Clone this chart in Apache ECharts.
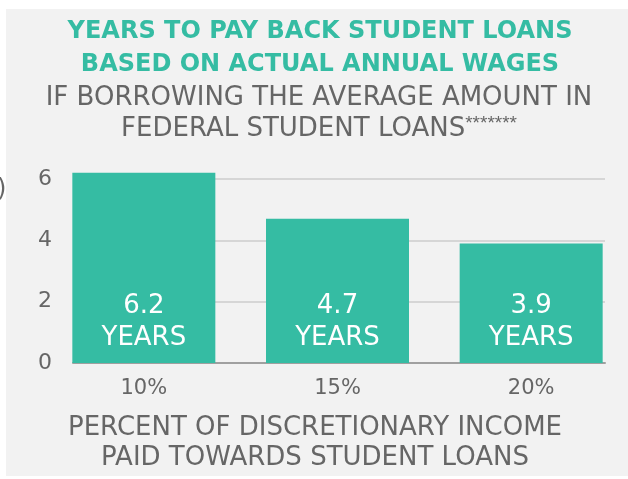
<!DOCTYPE html>
<html>
<head>
<meta charset="utf-8">
<script src="https://cdn.jsdelivr.net/npm/echarts@6/dist/echarts.min.js"></script>
<style>
  html, body { margin: 0; padding: 0; background: #fff; }
  #main { width: 628px; height: 479px; }
</style>
</head>
<body>
<div id="main"></div>
<script>
  var categories = ['10%', '15%', '20%'];
  var years = [6.2, 4.7, 3.9];
  var yTicks = [0, 2, 4, 6];

  var titleLines = ['YEARS TO PAY BACK STUDENT LOANS', 'BASED ON ACTUAL ANNUAL WAGES'];
  var subtitleLines = ['IF BORROWING THE AVERAGE AMOUNT IN', 'FEDERAL STUDENT LOANS'];
  var xNameLines = ['PERCENT OF DISCRETIONARY INCOME', 'PAID TOWARDS STUDENT LOANS'];

  var teal = '#35bca3';
  var grey = '#666666';
  var font = '"DejaVu Sans", sans-serif';

  var myChart = echarts.init(document.getElementById('main'));

  var option = {
    backgroundColor: '#ffffff',
    textStyle: { fontFamily: font },
    graphic: [
      {
        type: 'rect', z: -10, silent: true,
        shape: { x: 6, y: 9, width: 622, height: 467 },
        style: { fill: '#f2f2f2' }
      },
      {
        type: 'text', x: 320, y: 48,
        style: {
          text: titleLines.join('\n'), fill: teal, font: 'bold 24px ' + font,
          lineHeight: 33, align: 'center', verticalAlign: 'middle'
        }
      },
      {
        type: 'text', x: 319, y: 114,
        style: {
          text: subtitleLines[0] + '\n' + subtitleLines[1] + '{s|*******}',
          fill: grey, font: '26px ' + font, lineHeight: 31,
          align: 'center', verticalAlign: 'middle',
          rich: { s: { fontSize: 19, fill: grey, verticalAlign: 'top', lineHeight: 31 } }
        }
      },
      {
        type: 'text', x: 315, y: 443,
        style: {
          text: xNameLines.join('\n'), fill: grey, font: '26px ' + font,
          lineHeight: 30, align: 'center', verticalAlign: 'middle'
        }
      },
      {
        type: 'text', x: -3, y: 190,
        style: { text: ')', fill: grey, font: '24px ' + font, align: 'left', verticalAlign: 'middle' }
      }
    ],
    grid: [
      { left: 47, right: -3, top: 179, bottom: 116 },
      { left: 73, right: 23, top: 179, bottom: 116 }
    ],
    xAxis: [
      {
        type: 'category', gridIndex: 0, data: categories,
        axisLine: { show: false }, axisTick: { show: false },
        axisLabel: { color: grey, fontSize: 21, margin: 15 }
      },
      {
        type: 'category', gridIndex: 1, data: categories,
        axisLine: { show: true, lineStyle: { color: '#a0a0a0', width: 2 } },
        axisTick: { show: false }, axisLabel: { show: false }
      }
    ],
    yAxis: [
      { type: 'value', gridIndex: 0, min: 0, max: 6, interval: 2, show: false },
      {
        type: 'value', gridIndex: 1, min: yTicks[0], max: yTicks[yTicks.length - 1], interval: 2,
        axisLine: { show: false }, axisTick: { show: false },
        axisLabel: { color: grey, fontSize: 22, margin: 21 },
        splitLine: { lineStyle: { color: '#cccccc', width: 1.5 } }
      }
    ],
    series: [
      {
        type: 'bar', xAxisIndex: 0, yAxisIndex: 0,
        data: years, barWidth: 143, clip: false,
        itemStyle: { color: teal },
        label: {
          show: true, position: 'insideBottom', distance: 9,
          color: '#ffffff', fontSize: 26, lineHeight: 32,
          formatter: function (p) { return p.value + '\nYEARS'; }
        }
      }
    ]
  };

  myChart.setOption(option);
</script>
</body>
</html>
